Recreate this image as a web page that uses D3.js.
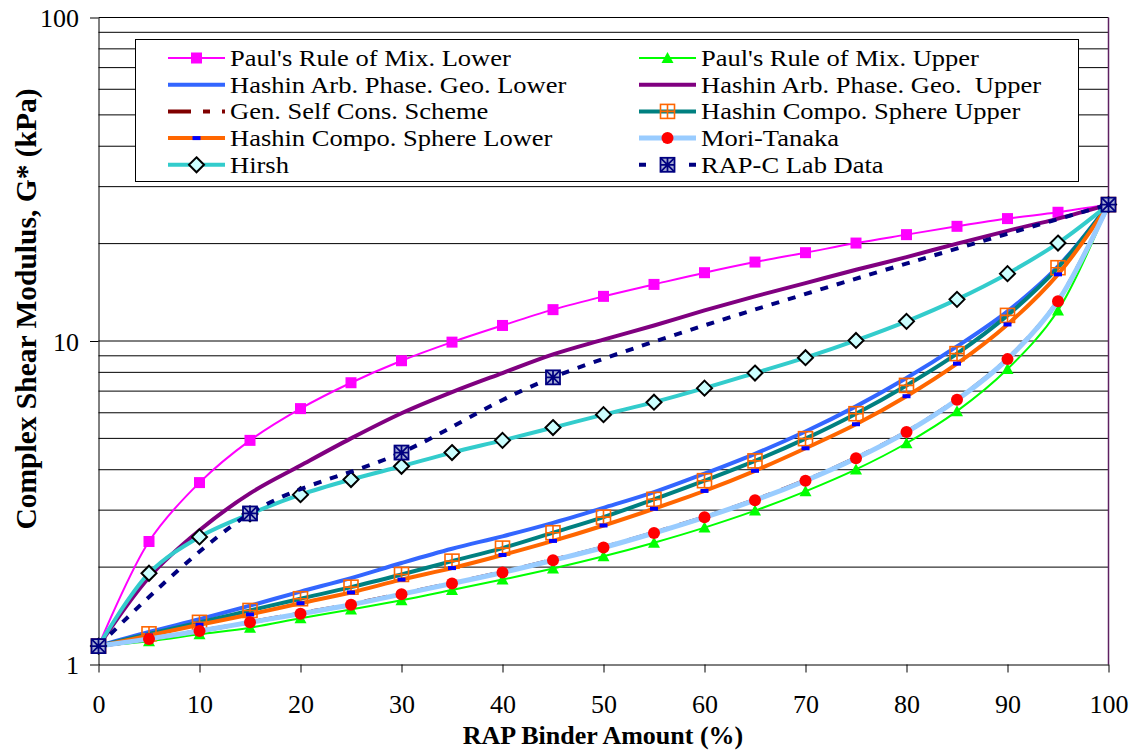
<!DOCTYPE html>
<html>
<head>
<meta charset="utf-8">
<script src="https://cdn.jsdelivr.net/npm/d3@7"></script>
<style>
  html, body { margin: 0; padding: 0; background: #fff; }
  svg { display: block; font-family: "Liberation Serif", "Times New Roman", serif; }
</style>
</head>
<body>
<svg id="chart" width="1135" height="751"></svg>
<script>
// RAP binder content (%) at which each model was evaluated
const binderPct = [0, 5, 10, 15, 20, 25, 30, 35, 40, 45, 50, 55, 60, 65, 70, 75, 80, 85, 90, 95, 100];

// Complex shear modulus G* (kPa) predicted by each model
const paulLower        = [1.14, 2.40, 3.65, 4.93, 6.18, 7.43, 8.69, 9.92, 11.17, 12.50, 13.74, 14.96, 16.26, 17.54, 18.75, 20.08, 21.32, 22.62, 23.90, 25.00, 26.40];
const paulUpper        = [1.14, 1.18, 1.24, 1.30, 1.39, 1.48, 1.58, 1.70, 1.83, 1.98, 2.16, 2.38, 2.65, 2.99, 3.43, 4.01, 4.83, 6.07, 8.19, 12.43, 26.40];
const hashinArbLower   = [1.14, 1.26, 1.38, 1.52, 1.68, 1.85, 2.06, 2.28, 2.49, 2.74, 3.05, 3.41, 3.89, 4.48, 5.25, 6.28, 7.68, 9.62, 12.35, 17.00, 26.40];
const hashinArbUpper   = [1.14, 1.86, 2.60, 3.38, 4.12, 5.00, 5.98, 6.95, 7.96, 9.09, 10.10, 11.17, 12.43, 13.74, 15.10, 16.60, 18.17, 20.00, 21.90, 23.90, 26.40];
const genSelfCons      = [1.14, 1.20, 1.27, 1.35, 1.44, 1.535, 1.655, 1.785, 1.93, 2.105, 2.305, 2.555, 2.855, 3.23, 3.71, 4.35, 5.24, 6.60, 8.81, 13.30, 26.40];
const hashinCompoUpper = [1.14, 1.244, 1.35, 1.469, 1.597, 1.734, 1.898, 2.087, 2.29, 2.555, 2.855, 3.24, 3.70, 4.26, 4.99, 5.96, 7.29, 9.14, 12.00, 16.85, 26.40];
const hashinCompoLower = [1.14, 1.229, 1.327, 1.428, 1.547, 1.67, 1.83, 1.986, 2.18, 2.41, 2.69, 3.03, 3.44, 3.97, 4.66, 5.53, 6.75, 8.51, 11.25, 16.07, 26.40];
const moriTanaka       = [1.14, 1.20, 1.27, 1.35, 1.435, 1.53, 1.65, 1.78, 1.925, 2.10, 2.30, 2.55, 2.85, 3.22, 3.70, 4.34, 5.23, 6.58, 8.79, 13.28, 26.40];
const hirsch           = [1.14, 1.915, 2.48, 2.92, 3.35, 3.73, 4.10, 4.52, 4.93, 5.40, 5.92, 6.47, 7.15, 7.96, 8.88, 10.04, 11.50, 13.45, 16.15, 20.08, 26.40];

// Laboratory measurements
const labPct = [0, 15, 30, 45, 100];
const labG   = [1.14, 2.93, 4.52, 7.72, 26.40];

// Axis ticks
const xTicks = [0, 10, 20, 30, 40, 50, 60, 70, 80, 90, 100];
const yTicks = [1, 10, 100];

const svg = d3.select("#chart");
const plot = { left: 98.5, right: 1108.5, top: 17.5, bottom: 664.5 };

const x = d3.scaleLinear().domain([0, 100]).range([plot.left, plot.right]);
const y = d3.scaleLog().domain([1, 100]).range([plot.bottom, plot.top]);

// ---- gridlines (every 1-9 x 10^n) ----
svg.append("g")
  .selectAll("line")
  .data(y.ticks().filter(v => v > 1))
  .join("line")
  .attr("x1", plot.left).attr("x2", plot.right)
  .attr("y1", d => y(d)).attr("y2", d => y(d))
  .attr("stroke", "#000").attr("stroke-width", 1);

// right border of the plot area
svg.append("line")
  .attr("x1", plot.right).attr("x2", plot.right)
  .attr("y1", plot.top).attr("y2", plot.bottom)
  .attr("stroke", "#5e2062").attr("stroke-width", 1.5);

// ---- axes ----
const xAxis = svg.append("g")
  .attr("transform", `translate(0,${plot.bottom})`)
  .call(d3.axisBottom(x).tickValues(xTicks).tickSize(8).tickPadding(22).tickSizeOuter(0));
xAxis.selectAll("text").attr("font-size", 26).attr("font-family", "Liberation Serif").attr("fill", "#000");
xAxis.selectAll("line, path").attr("stroke", "#000");

const yAxis = svg.append("g")
  .attr("transform", `translate(${plot.left},0)`)
  .call(d3.axisLeft(y).tickValues(yTicks).tickFormat(d3.format("d")).tickSize(8.5).tickPadding(11).tickSizeOuter(0));
yAxis.selectAll("text").attr("font-size", 26).attr("font-family", "Liberation Serif").attr("fill", "#000").attr("dy", "0.36em");
yAxis.selectAll("line, path").attr("stroke", "#000");

// ---- axis titles ----
svg.append("text")
  .attr("transform", "translate(36,309) rotate(-90)")
  .attr("text-anchor", "middle")
  .attr("font-weight", "bold").attr("font-size", 29.5)
  .text("Complex Shear Modulus, G* (kPa)");

svg.append("text")
  .attr("x", 603).attr("y", 744)
  .attr("text-anchor", "middle")
  .attr("font-weight", "bold").attr("font-size", 26)
  .text("RAP Binder Amount (%)");

// ---- marker painters ----
const markers = {
  magentaSquare(g, cx, cy) {
    g.append("rect").attr("x", cx - 5.5).attr("y", cy - 5.5).attr("width", 11).attr("height", 11)
      .attr("fill", "#ff00ff");
  },
  greenTriangle(g, cx, cy) {
    g.append("path").attr("d", `M${cx},${cy - 6}L${cx + 6},${cy + 5}L${cx - 6},${cy + 5}Z`)
      .attr("fill", "#00ff00");
  },
  crossSquare(g, cx, cy) {
    const s = 7;
    g.append("rect").attr("x", cx - s).attr("y", cy - s).attr("width", 2 * s).attr("height", 2 * s)
      .attr("fill", "none").attr("stroke", "#ff6600").attr("stroke-width", 1.6);
    g.append("path").attr("d", `M${cx - s},${cy}H${cx + s}M${cx},${cy - s}V${cy + s}`)
      .attr("stroke", "#ff6600").attr("stroke-width", 1.6);
  },
  blueDash(g, cx, cy) {
    g.append("rect").attr("x", cx - 4).attr("y", cy - 2).attr("width", 8).attr("height", 4)
      .attr("fill", "#0000ff");
  },
  redDot(g, cx, cy) {
    g.append("circle").attr("cx", cx).attr("cy", cy).attr("r", 6).attr("fill", "#ff0000");
  },
  diamond(g, cx, cy) {
    const s = 7.5;
    g.append("path").attr("d", `M${cx},${cy - s}L${cx + s},${cy}L${cx},${cy + s}L${cx - s},${cy}Z`)
      .attr("fill", "#ccffff").attr("stroke", "#000").attr("stroke-width", 2);
  },
  labBox(g, cx, cy) {
    const s = 7;
    g.append("rect").attr("x", cx - s).attr("y", cy - s).attr("width", 2 * s).attr("height", 2 * s)
      .attr("fill", "#a8b0d4").attr("stroke", "#000080").attr("stroke-width", 1.8);
    g.append("path")
      .attr("d", `M${cx - s},${cy - s}L${cx + s},${cy + s}M${cx + s},${cy - s}L${cx - s},${cy + s}M${cx},${cy - s}V${cy + s}M${cx - s},${cy}H${cx + s}`)
      .attr("stroke", "#000080").attr("stroke-width", 1.8);
  }
};

// ---- series (drawn in legend order, later ones on top) ----
const series = [
  { name: "Paul's Rule of Mix. Lower",        xs: binderPct, ys: paulLower,        color: "#ff00ff", width: 2,   marker: "magentaSquare" },
  { name: "Paul's Rule of Mix. Upper",        xs: binderPct, ys: paulUpper,        color: "#00ff00", width: 2,   marker: "greenTriangle" },
  { name: "Hashin Arb. Phase. Geo. Lower",    xs: binderPct, ys: hashinArbLower,   color: "#3366ff", width: 4 },
  { name: "Hashin Arb. Phase. Geo.  Upper",   xs: binderPct, ys: hashinArbUpper,   color: "#800080", width: 4 },
  { name: "Gen. Self Cons. Scheme",           xs: binderPct, ys: genSelfCons,      color: "#800000", width: 4, dash: "23 12 7 12" },
  { name: "Hashin Compo. Sphere Upper",       xs: binderPct, ys: hashinCompoUpper, color: "#008080", width: 4,   marker: "crossSquare" },
  { name: "Hashin Compo. Sphere Lower",       xs: binderPct, ys: hashinCompoLower, color: "#ff6600", width: 4,   marker: "blueDash" },
  { name: "Mori-Tanaka",                      xs: binderPct, ys: moriTanaka,       color: "#99ccff", width: 5,   marker: "redDot" },
  { name: "Hirsh",                            xs: binderPct, ys: hirsch,           color: "#33cccc", width: 4,   marker: "diamond" },
  { name: "RAP-C Lab Data",                   xs: labPct,    ys: labG,             color: "#000080", width: 4, dash: "8 9", marker: "labBox" }
];

const line = d3.line()
  .x(d => x(d[0]))
  .y(d => y(d[1]))
  .curve(d3.curveCatmullRom.alpha(0.5));

const seriesLayer = svg.append("g");
series.forEach(s => {
  const pts = s.xs.map((v, i) => [v, s.ys[i]]);
  const g = seriesLayer.append("g");
  g.append("path")
    .attr("d", line(pts))
    .attr("fill", "none")
    .attr("stroke", s.color)
    .attr("stroke-width", s.width)
    .attr("stroke-dasharray", s.dash || null);
  if (s.marker) {
    pts.forEach(p => markers[s.marker](g, x(p[0]), y(p[1])));
  }
});

// ---- legend ----
const legend = svg.append("g");
legend.append("rect")
  .attr("x", 135.5).attr("y", 39.5).attr("width", 943).attr("height", 142)
  .attr("fill", "#fff").attr("stroke", "#000").attr("stroke-width", 1);

const legendCols = [168, 639];
const legendBaseline = 66, legendStep = 26.7;
// rows are packed tightly, so the entries use a compact glyph height
// while keeping the full run width of the larger size
const legendSizeWide = 26.5, legendSize = 23;
series.forEach((s, i) => {
  const col = i % 2, row = Math.floor(i / 2);
  const x0 = legendCols[col];
  const base = legendBaseline + row * legendStep;
  const ly = base - 8;
  const g = legend.append("g");
  if (s.name === "RAP-C Lab Data") {
    g.append("path").attr("d", `M${x0},${ly}H${x0 + 7}M${x0 + 50},${ly}H${x0 + 57}`)
      .attr("stroke", s.color).attr("stroke-width", s.width);
  } else {
    g.append("line")
      .attr("x1", x0).attr("x2", x0 + 57).attr("y1", ly).attr("y2", ly)
      .attr("stroke", s.color).attr("stroke-width", s.width)
      .attr("stroke-dasharray", s.dash || null);
  }
  if (s.marker) markers[s.marker](g, x0 + 28.5, ly);
  const t = g.append("text")
    .attr("x", x0 + 62).attr("y", base)
    .attr("font-size", legendSizeWide)
    .style("white-space", "pre")
    .text(s.name);
  const wide = t.node().getComputedTextLength();
  t.attr("font-size", legendSize)
    .attr("textLength", wide)
    .attr("lengthAdjust", "spacingAndGlyphs");
});
</script>
</body>
</html>
